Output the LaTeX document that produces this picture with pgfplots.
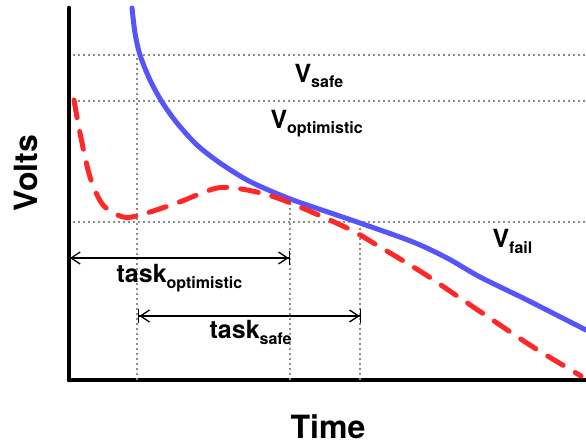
\documentclass[border=0pt]{standalone}
\usepackage{pgfplots}
\pgfplotsset{compat=1.18}
\usetikzlibrary{arrows.meta}
\usepackage{fontspec}
\setmainfont{TeX Gyre Heros}

\definecolor{vblue}{RGB}{85,85,250}
\definecolor{vred}{RGB}{255,40,40}
\definecolor{dotgray}{RGB}{140,140,140}

% label with a lowered small subscript
\newcommand\lbl[2]{#1\raisebox{-6pt}{\fontsize{16}{18}\selectfont #2}}

\begin{document}
\begin{tikzpicture}
    \begin{axis}[
        at={(69pt,65pt)}, anchor=south west,
        scale only axis,
        width=517pt, height=372pt,
        xmin=0, xmax=517,
        ymin=0, ymax=372,
        axis x line*=bottom,
        axis y line*=left,
        axis line style={line width=4.5pt, -, line cap=round},
        ticks=none,
        clip=false,
        grid line/.style={dotgray, line width=1.2pt, dash pattern=on 2pt off 3pt},
        every node/.style={font=\bfseries, inner sep=0pt},
    ]
    %% reference levels and time marks
    \addplot[grid line] coordinates {(4,325)(517,325)};
    \addplot[grid line] coordinates {(4,279)(517,279)};
    \addplot[grid line] coordinates {(4,158)(517,158)};
    \addplot[grid line] coordinates {(68,0)(68,325)};
    \addplot[grid line] coordinates {(221,0)(221,180)};
    \addplot[grid line] coordinates {(291,0)(291,158)};

    %% voltage curves
    \addplot[vblue, line width=5pt, smooth, line cap=round] coordinates {
        (63,372)(66,347)(71,325)(81,300)(93,278)(108,257)(128,235)(151,217)
        (178,200)(204,188)(224,180)(244,173)(291,157)(344,138)(378,122)
        (411,103)(458,80)(517,50)
    };
    \addplot[vred, line width=5pt, smooth, line cap=round,
             dash pattern=on 18pt off 14pt] coordinates {
        (5,280)(11,247)(21,203)(34,175)(54,163)(71,165)(108,177)(148,192)
        (178,190)(214,180)(278,152)(311,133)(354,107)(391,82)(428,57)(464,33)(512,4)
    };

    %% task spans
    \addplot[black, line width=1.3pt,
             arrows={Straight Barb[length=9pt,width=12pt]-Straight Barb[length=9pt,width=12pt]Bar[width=14pt]}]
        coordinates {(1,122)(221,122)};
    \addplot[black, line width=1.3pt,
             arrows={Bar[width=14pt]Straight Barb[length=9pt,width=12pt]-Straight Barb[length=9pt,width=12pt]Bar[width=14pt]}]
        coordinates {(69,64)(292,64)};

    %% labels
    \node[anchor=base west, font=\fontsize{25}{28}\selectfont\bfseries] at (axis cs:222,298) {\lbl{V}{safe}};
    \node[anchor=base west, font=\fontsize{25}{28}\selectfont\bfseries] at (axis cs:198,252) {\lbl{V}{optimistic}};
    \node[anchor=base west, font=\fontsize{25}{28}\selectfont\bfseries] at (axis cs:420,133) {\lbl{V}{fail}};
    \node[anchor=base west, font=\fontsize{25}{28}\selectfont\bfseries] at (axis cs:44,98) {\lbl{task}{optimistic}};
    \node[anchor=base west, font=\fontsize{25}{28}\selectfont\bfseries] at (axis cs:137,42) {\lbl{task}{safe}};

    \node[anchor=base, font=\fontsize{32}{36}\selectfont\bfseries] at (axis cs:259,-58) {Time};
    \node[anchor=base, rotate=90, font=\fontsize{32}{36}\selectfont\bfseries] at (axis cs:-32,207) {Volts};
    \end{axis}
    \pgfresetboundingbox
    \path[use as bounding box] (0,0) rectangle (586pt,445pt);
\end{tikzpicture}
\end{document}
